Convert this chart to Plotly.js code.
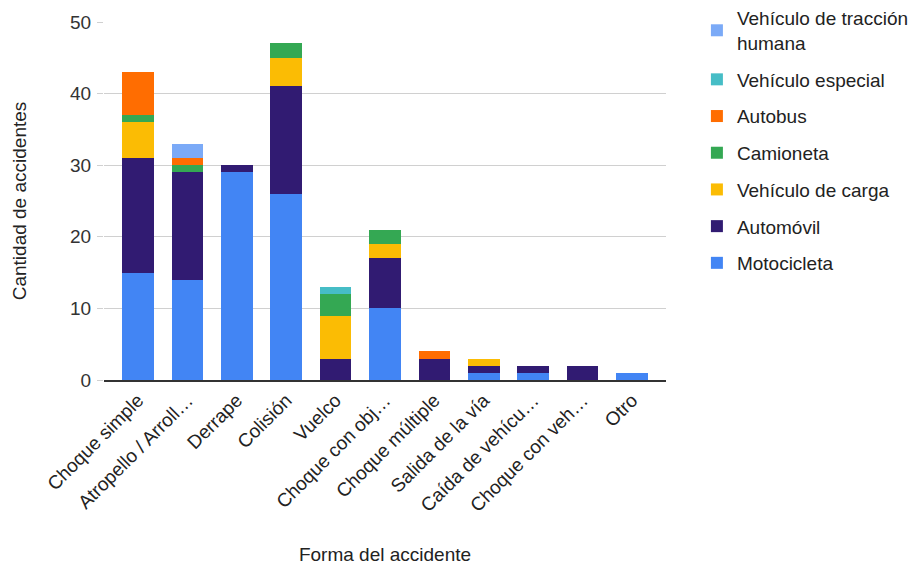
<!DOCTYPE html>
<html><head><meta charset="utf-8">
<script src="https://cdn.plot.ly/plotly-3.0.1.min.js"></script>
<style>body{margin:0;}#c{width:919px;height:565px;}</style>
</head><body><div id="c"></div>
<script>
const categories = ["Choque simple","Atropello / Arroll…","Derrape","Colisión","Vuelco","Choque con obj…","Choque múltiple","Salida de la vía","Caída de vehícu…","Choque con veh…","Otro"];
const motocicleta   = [15,14,29,26,0,10,0,1,1,0,1];
const automovil     = [16,15,1,15,3,7,3,1,1,2,0];
const carga         = [5,0,0,4,6,2,0,1,0,0,0];
const camioneta     = [1,1,0,2,3,2,0,0,0,0,0];
const autobus       = [6,1,0,0,0,0,1,0,0,0,0];
const especial      = [0,0,0,0,1,0,0,0,0,0,0];
const traccion      = [0,2,0,0,0,0,0,0,0,0,0];
const yTicks = [0,10,20,30,40,50];

const series = [
  {name:"Motocicleta", y:motocicleta, color:"#4285f4"},
  {name:"Automóvil", y:automovil, color:"#311b72"},
  {name:"Vehículo de carga", y:carga, color:"#fbbc04"},
  {name:"Camioneta", y:camioneta, color:"#34a853"},
  {name:"Autobus", y:autobus, color:"#ff6d01"},
  {name:"Vehículo especial", y:especial, color:"#46bdc6"},
  {name:"Vehículo de tracción<br>humana", y:traccion, color:"#7baaf7"}
];
const data = series.map((s,i)=>({
  type:"bar", x:categories, y:s.y, name:s.name, legendgroup:"g"+i, legendrank: series.length - i,
  marker:{color:s.color, line:{width:0}}, hoverinfo:"x+y+name"
}));
const F = "Arial, 'Liberation Sans', sans-serif";
const layout = {
  width:919, height:565,
  margin:{l:104, r:253, t:22, b:185, autoexpand:false},
  barmode:"stack", bargap:0.36,
  font:{family:F, size:19, color:"#333"},
  paper_bgcolor:"#fff", plot_bgcolor:"#fff",
  xaxis:{range:[-0.69, 10.69], tickangle:-45, tickfont:{size:19, color:"#222"}, showline:true, linecolor:"#333", linewidth:1.5,
         title:{text:"Forma del accidente", font:{size:19, color:"#222"}, standoff:35}, automargin:false, ticks:""},
  yaxis:{range:[0,50], tickvals:yTicks, showgrid:true, gridcolor:"#d0d0d0", zeroline:false,
         ticks:"outside", ticklen:6, tickcolor:"#d0d0d0", ticklabelstandoff:2,
         tickfont:{size:19, color:"#333"},
         title:{text:"Cantidad de accidentes", font:{size:19, color:"#222"}, standoff:38}, automargin:false},
  legend:{x:1.055, xanchor:"left", y:1.064, yanchor:"top", traceorder:"grouped", tracegroupgap:9,
          font:{size:19, color:"#222"}, maxheight:1},
  showlegend:true
};
Plotly.newPlot("c", data, layout, {displayModeBar:false});
</script></body></html>
